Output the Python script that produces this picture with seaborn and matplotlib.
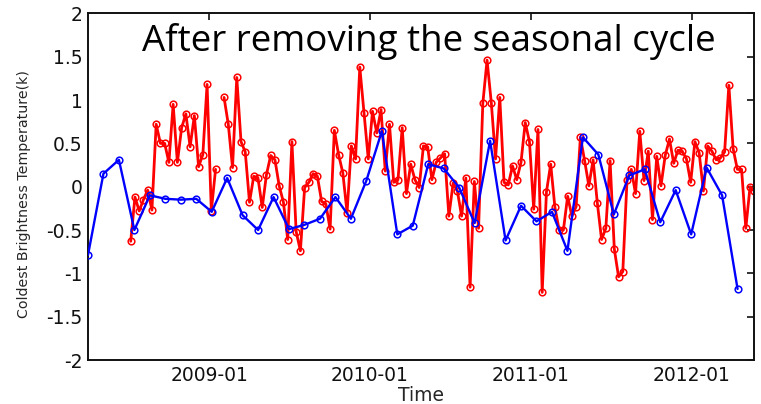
import numpy as np
import pandas as pd
import matplotlib
matplotlib.use("Agg")
import matplotlib.pyplot as plt
import matplotlib.dates as mdates
import seaborn as sns

# Coldest brightness temperature anomalies (K) after the seasonal cycle is removed
red_values = [
    -0.63, -0.12, -0.28, -0.15, -0.04, -0.27, 0.72, 0.50, 0.50, 0.28,
    0.95, 0.28, 0.68, 0.84, 0.46, 0.82, 0.23, 0.37, 1.18, -0.28,
    0.20, np.nan, 1.03, 0.72, 0.22, 1.26, 0.52, 0.40, -0.18, 0.12,
    0.10, -0.24, 0.14, 0.36, 0.31, 0.01, -0.18, -0.61, 0.52, -0.52,
    -0.74, -0.01, 0.05, 0.15, 0.12, -0.17, -0.20, -0.49, 0.65, 0.37,
    0.16, -0.30, 0.47, 0.32, 1.38, 0.85, 0.32, 0.87, 0.62, 0.89,
    0.18, 0.72, 0.05, 0.08, 0.68, -0.08, 0.26, 0.08, -0.01, 0.47,
    0.46, 0.08, 0.28, 0.33, 0.38, -0.34, 0.04, -0.05, -0.34, 0.10,
    -1.16, 0.06, -0.48, 0.96, 1.46, 0.97, 0.32, 1.03, 0.05, 0.02,
    0.24, 0.08, 0.28, 0.74, 0.52, -0.26, 0.66, -1.22, -0.06, 0.26,
    -0.24, -0.50, -0.50, -0.11, -0.34, -0.23, 0.57, 0.30, 0.01, 0.31,
    -0.19, -0.61, -0.48, 0.30, -0.72, -1.04, -0.98, 0.08, 0.20, -0.08,
    0.64, 0.07, 0.41, -0.38, 0.35, 0.01, 0.36, 0.55, 0.27, 0.42,
    0.41, 0.32, 0.05, 0.52, 0.39, -0.05, 0.47, 0.41, 0.31, 0.33,
    0.40, 1.17, 0.44, 0.20, 0.20, -0.48, 0.00, -0.05,
]
blue_values = [
    -0.79, 0.15, 0.31, -0.50, -0.10, -0.14, -0.15, -0.14, -0.29, 0.10,
    -0.33, -0.50, -0.12, -0.49, -0.44, -0.37, -0.12, -0.37, 0.07, 0.64,
    -0.55, -0.45, 0.26, 0.21, -0.01, -0.42, 0.53, -0.62, -0.22, -0.40,
    -0.29, -0.74, 0.57, 0.37, -0.32, 0.13, 0.20, -0.41, -0.04, -0.55,
    0.22, -0.10, -1.18,
]
red_start, red_end = "2008-07-07", "2012-05-22"
blue_start, blue_end = "2008-04-01", "2012-04-14"
x_range = ("2008-04-01", "2012-05-22")
x_tick_dates = ["2009-01-01", "2010-01-01", "2011-01-01", "2012-01-01"]
y_ticks = [-2, -1.5, -1, -0.5, 0, 0.5, 1, 1.5, 2]
y_tick_labels = ["-2", "-1.5", "-1", "-0.5", "0", "0.5", "1", "1.5", "2"]
title_text = "After removing the seasonal cycle"
x_label = "Time"
y_label = "Coldest Brightness Temperature(k)"

red = pd.DataFrame({
    "time": pd.date_range(red_start, red_end, periods=len(red_values)),
    "value": red_values,
})
# split the series where a value is missing so the line breaks there
red["seg"] = red["value"].isna().cumsum()
red = red.dropna()

blue = pd.DataFrame({
    "time": pd.date_range(blue_start, blue_end, periods=len(blue_values)),
    "value": blue_values,
})

sns.set_style("white")
plt.rcParams["font.family"] = ["DejaVu Sans"]
plt.rcParams["axes.unicode_minus"] = False

fig = plt.figure(figsize=(7.61, 4.04), dpi=100)
ax = fig.add_axes([0.1156, 0.1089, 0.8756, 0.8581])

sns.lineplot(data=red, x="time", y="value", units="seg", estimator=None,
             color="#ff0000", linewidth=2.0, marker="o", markersize=4.8,
             markerfacecolor="none", markeredgecolor="#ff0000",
             markeredgewidth=1.1, ax=ax, zorder=2)
sns.lineplot(data=blue, x="time", y="value", color="#0000ff", linewidth=1.7,
             marker="o", markersize=4.8, markerfacecolor="none",
             markeredgecolor="#0000ff", markeredgewidth=1.1, ax=ax, zorder=3)

ax.set_xlim(pd.Timestamp(x_range[0]), pd.Timestamp(x_range[1]))
ax.set_ylim(-2, 2)
ax.set_xticks([pd.Timestamp(d) for d in x_tick_dates])
ax.xaxis.set_major_formatter(mdates.DateFormatter("%Y-%m"))
ax.set_yticks(y_ticks)
ax.set_yticklabels(y_tick_labels)

ax.tick_params(direction="in", length=5, width=1.2, top=True, right=True,
               labelsize=13.5, colors="#111111", pad=4)
for s in ax.spines.values():
    s.set_visible(True)
    s.set_color("#111111")
    s.set_linewidth(1.4)

ax.set_xlabel(x_label, fontsize=13.5, labelpad=1)
ax.set_ylabel(y_label, fontsize=10.2)
ax.yaxis.set_label_coords(-0.086, 0.48)

ax.text(0.511, 0.92, title_text, transform=ax.transAxes, ha="center",
        va="center", fontsize=26.5, family=["Open Sans"], color="black")

fig.savefig("out.png", dpi=100)
